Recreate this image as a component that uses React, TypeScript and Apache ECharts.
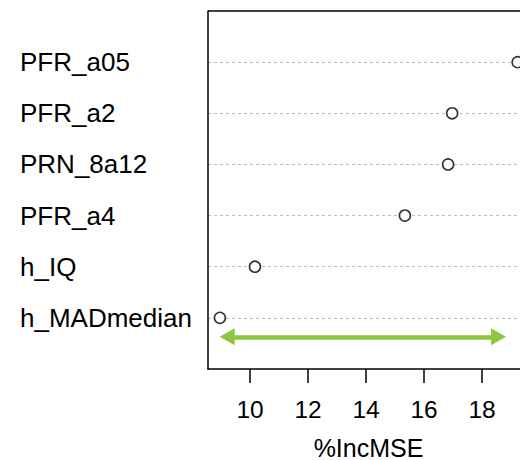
import React, { useEffect, useRef } from "react";
import * as echarts from "echarts";

// variables listed bottom -> top (y position 1..6)
const variables = ["h_MADmedian", "h_IQ", "PFR_a4", "PRN_8a12", "PFR_a2", "PFR_a05"];
const incMSE = [8.96, 10.17, 15.34, 16.83, 16.97, 19.23];
const xTicks = [10, 12, 14, 16, 18];
const arrowRange = [9.21, 18.57];
const arrowLevel = 0.63;

export default function App() {
  const ref = useRef<HTMLDivElement>(null);
  useEffect(() => {
    if (!ref.current) return;
    const chart = echarts.init(ref.current, undefined, { renderer: "svg" });
    const font = "'Liberation Sans', Arial, sans-serif";
    chart.setOption({
      animation: false,
      backgroundColor: "#fff",
      grid: {
        left: 208,
        top: 11,
        width: 321,
        height: 358,
        containLabel: false,
        outerBoundsMode: "none",
      },
      xAxis: {
        type: "value",
        min: 8.55,
        max: 19.62,
        z: 5,
        name: "%IncMSE",
        nameLocation: "middle",
        nameGap: 66,
        nameTextStyle: { fontSize: 25, color: "#000", fontFamily: font },
        axisLine: { show: true, lineStyle: { color: "#000", width: 1.5 } },
        axisTick: {
          show: true,
          customValues: xTicks,
          length: 14,
          lineStyle: { color: "#000", width: 1.5 },
        },
        axisLabel: {
          customValues: xTicks,
          fontSize: 24.5,
          color: "#000",
          fontFamily: font,
          margin: 28,
        },
        splitLine: { show: false },
      },
      yAxis: {
        type: "value",
        min: 0,
        max: 7,
        interval: 1,
        axisLine: { show: true, onZero: false, lineStyle: { color: "#000", width: 1.5 } },
        axisTick: { show: false },
        axisLabel: {
          fontSize: 26,
          color: "#000",
          fontFamily: font,
          align: "left",
          margin: 188,
          formatter: (v: number) => (v >= 1 && v <= 6 ? variables[v - 1] : ""),
        },
        splitLine: {
          show: true,
          showMinLine: false,
          showMaxLine: false,
          lineStyle: { color: "#bdbdbd", type: [3, 3], width: 1 },
        },
      },
      graphic: [
        {
          type: "line",
          shape: { x1: 208, y1: 11, x2: 520, y2: 11 },
          style: { stroke: "#000", lineWidth: 1.5 },
          z: 10,
        },
      ],
      series: [
        {
          type: "scatter",
          data: incMSE.map((v, i) => [v, i + 1]),
          symbol: "circle",
          symbolSize: 11,
          itemStyle: { color: "#fff", borderColor: "#000", borderWidth: 1.6 },
          z: 3,
          markLine: {
            silent: true,
            animation: false,
            label: { show: false },
            symbol: ["triangle", "triangle"],
            symbolSize: [17, 15],
            lineStyle: { color: "#8dc63f", width: 4.5, type: "solid" },
            data: [
              [
                { coord: [arrowRange[0], arrowLevel] },
                { coord: [arrowRange[1], arrowLevel] },
              ],
            ],
          },
        },
      ],
    });
    return () => chart.dispose();
  }, []);
  return (
    <div
      ref={ref}
      style={{ position: "fixed", left: 0, top: 0, width: 520, height: 460, background: "#fff" }}
    />
  );
}
